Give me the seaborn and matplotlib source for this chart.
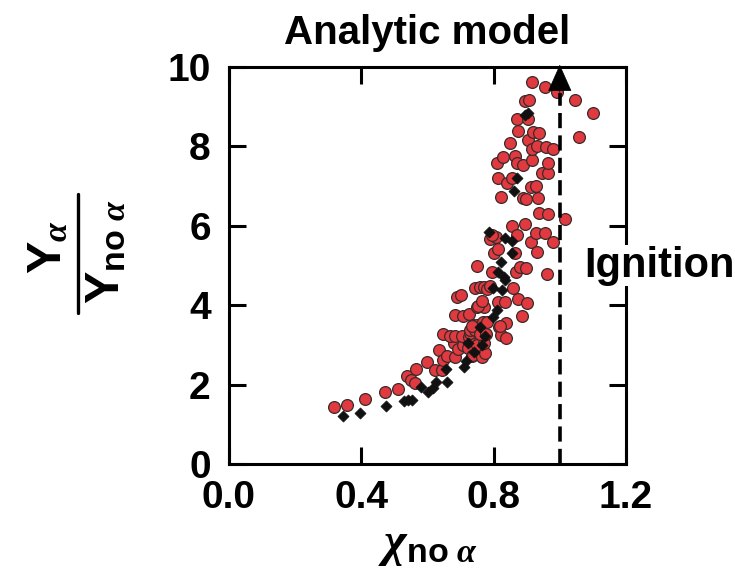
import matplotlib
matplotlib.use("Agg")
import matplotlib.pyplot as plt
from matplotlib.lines import Line2D
import pandas as pd
import seaborn as sns

# Simulated shots: yield amplification vs. ignition parameter
shot_x = [0.317, 0.356, 0.411, 0.472, 0.511, 0.537, 0.550, 0.563, 0.565, 0.600,
          0.624, 0.644, 0.636, 0.648, 0.659, 0.684, 0.699, 0.679, 0.694, 0.709,
          0.648, 0.669, 0.684, 0.704, 0.727, 0.729, 0.729, 0.737, 0.745, 0.749,
          0.735, 0.722, 0.735, 0.739, 0.750, 0.766, 0.775, 0.770, 0.759, 0.777,
          0.769, 0.781, 0.682, 0.707, 0.727, 0.689, 0.701, 0.744, 0.759, 0.770,
          0.779, 0.790, 0.751, 0.749, 0.764, 0.771, 0.752, 0.765, 0.794, 0.802,
          0.814, 0.789, 0.807, 0.794, 0.812, 0.834, 0.816, 0.837, 0.821, 0.837,
          0.820, 0.860, 0.875, 0.902, 0.885, 0.868, 0.880, 0.898, 0.865, 0.857,
          0.872, 0.895, 0.913, 0.927, 0.930, 0.955, 0.978, 0.960, 0.938, 0.963,
          1.016, 0.823, 0.812, 0.840, 0.857, 0.809, 0.829, 0.865, 0.872, 0.890,
          0.850, 0.888, 0.898, 0.913, 0.928, 0.935, 0.915, 0.945, 0.965, 0.963,
          0.905, 0.917, 0.930, 0.957, 0.981, 0.920, 0.938, 0.873, 0.870, 0.905,
          0.895, 0.907, 0.915, 0.955, 0.991, 1.046, 1.101, 1.059]
shot_y = [1.43, 1.49, 1.64, 1.83, 1.89, 2.21, 2.12, 2.05, 2.40, 2.58,
          2.37, 2.36, 2.88, 2.63, 2.72, 2.70, 2.96, 3.05, 2.89, 3.00,
          3.29, 3.23, 3.23, 3.22, 3.21, 3.30, 3.38, 3.50, 3.38, 3.50,
          3.48, 2.92, 2.73, 2.75, 3.01, 2.71, 2.81, 3.05, 3.29, 3.29,
          3.59, 3.57, 3.76, 3.74, 3.77, 4.22, 4.27, 4.43, 4.45, 4.47,
          4.40, 4.49, 4.99, 3.96, 4.05, 3.95, 3.97, 4.10, 4.84, 5.31,
          5.42, 5.66, 5.72, 5.77, 4.09, 4.07, 3.46, 3.56, 3.25, 3.17,
          3.48, 4.43, 4.17, 4.05, 3.73, 4.84, 4.95, 4.93, 5.31, 6.00,
          5.77, 6.04, 5.60, 5.81, 5.35, 5.83, 5.60, 4.79, 6.31, 6.30,
          6.16, 6.73, 7.21, 7.07, 7.21, 7.57, 7.74, 7.75, 7.57, 7.54,
          8.09, 6.69, 6.67, 6.98, 7.00, 6.71, 7.65, 7.32, 7.32, 7.57,
          8.16, 7.92, 8.00, 7.99, 7.92, 8.37, 8.32, 8.39, 8.68, 8.68,
          9.14, 9.15, 9.62, 9.50, 9.37, 9.16, 8.83, 8.24]

# Analytic model curve samples
model_x = [0.346, 0.397, 0.474, 0.530, 0.543, 0.553, 0.580, 0.603, 0.618, 0.625,
           0.658, 0.655, 0.711, 0.716, 0.742, 0.723, 0.764, 0.774, 0.759, 0.799,
           0.809, 0.799, 0.825, 0.834, 0.814, 0.830, 0.822, 0.855, 0.857, 0.836,
           0.786, 0.862, 0.872, 0.903, 0.895]
model_y = [1.22, 1.28, 1.47, 1.58, 1.62, 1.63, 1.95, 1.83, 1.91, 2.08,
           2.06, 2.39, 2.46, 2.61, 2.83, 3.04, 3.00, 3.23, 3.46, 3.71,
           3.88, 4.43, 4.38, 4.64, 4.84, 4.72, 5.10, 5.31, 5.62, 5.68,
           5.85, 6.87, 7.19, 8.84, 8.78]

ignition_x = 1.0
x_ticks = [0.0, 0.4, 0.8, 1.2]
y_ticks = [0, 2, 4, 6, 8, 10]

sns.set_theme(style="ticks")
plt.rcParams["font.family"] = ["Liberation Sans", "DejaVu Sans"]
plt.rcParams["font.weight"] = "bold"
plt.rcParams["text.color"] = "black"
plt.rcParams["axes.labelcolor"] = "black"
plt.rcParams["xtick.color"] = "black"
plt.rcParams["ytick.color"] = "black"
plt.rcParams["mathtext.fontset"] = "custom"
plt.rcParams["mathtext.rm"] = "Liberation Sans:bold"
plt.rcParams["mathtext.bf"] = "Liberation Sans:bold"
plt.rcParams["mathtext.it"] = "Liberation Serif:italic"

shots = pd.DataFrame({"x": shot_x, "y": shot_y})
model = pd.DataFrame({"x": model_x, "y": model_y})

fig = plt.figure(figsize=(7.35, 5.70), dpi=100)
ax = fig.add_axes([0.3112, 0.1854, 0.5405, 0.6976])

sns.scatterplot(data=shots, x="x", y="y", ax=ax, marker="o", s=72,
                color="#e0393f", edgecolor="#3a2a2a", linewidth=0.9, zorder=3)
sns.scatterplot(data=model, x="x", y="y", ax=ax, marker="D", s=32,
                color="#111111", edgecolor="#111111", linewidth=0.5, zorder=4)

# Ignition threshold: dashed line with arrow head
ax.plot([ignition_x, ignition_x], [0, 9.35], color="black", lw=2.6,
        dashes=(4.2, 2.0), zorder=5, solid_capstyle="butt")
ax.annotate("", xy=(ignition_x, 10.05), xytext=(ignition_x, 9.2),
            arrowprops=dict(arrowstyle="-|>,head_length=0.9,head_width=0.4",
                            color="black", lw=0.5, mutation_scale=20,
                            shrinkA=0, shrinkB=0),
            annotation_clip=False, zorder=6)
ax.text(1.075, 5.0, "Ignition", ha="left", va="center", fontsize=30,
        fontweight="bold", clip_on=False, zorder=10,
        bbox=dict(facecolor="white", edgecolor="none", pad=0.5))

ax.set_xlim(0, 1.2)
ax.set_ylim(0, 10)
ax.set_xticks(x_ticks)
ax.set_xticklabels([f"{v:.1f}" for v in x_ticks])
ax.set_yticks(y_ticks)
ax.set_yticklabels([str(v) for v in y_ticks])
ax.tick_params(direction="in", length=12, width=2.2, top=True, right=True,
               labelsize=28, colors="black")
ax.tick_params(axis="x", pad=11)
ax.tick_params(axis="y", pad=13)
for lab in ax.get_xticklabels() + ax.get_yticklabels():
    lab.set_fontweight("bold")
for sp in ax.spines.values():
    sp.set_visible(True)
    sp.set_linewidth(2.2)
    sp.set_color("black")
ax.set_xlabel("")
ax.set_ylabel("")

ax.set_title("Analytic model", fontsize=29, fontweight="bold", pad=16,
             color="black")

# x label
fig.text(428 / 735, 1 - 546 / 570, r"$\chi_{\mathrm{no}\ \alpha}$",
         ha="center", va="center", fontsize=35)

# y label drawn as a stacked fraction
fig.text(0.066, 0.5675, r"$\mathrm{Y}_{\alpha}$", rotation=90,
         ha="center", va="center", fontsize=35)
fig.text(0.1456, 0.558, r"$\mathrm{Y}_{\mathrm{no}\ \alpha}$", rotation=90,
         ha="center", va="center", fontsize=35)
fig.add_artist(Line2D([78 / 735, 78 / 735], [0.4509, 0.6596],
                      transform=fig.transFigure, color="black", lw=2.4))

fig.savefig("out.png", dpi=100, facecolor="white")
